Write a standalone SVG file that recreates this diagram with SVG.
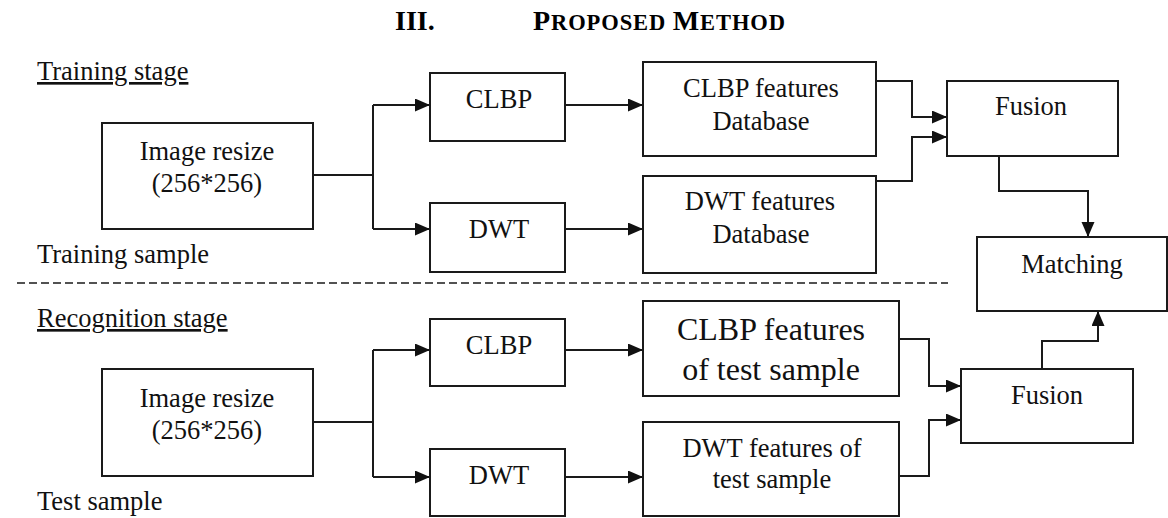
<svg xmlns="http://www.w3.org/2000/svg" width="1168" height="518" viewBox="0 0 1168 518">
  <style>
    .box { fill: #fff; stroke: #1a1a1a; stroke-width: 2; }
    .t { font-family: "Liberation Serif", "Times New Roman", serif; font-size: 26.5px; fill: #111; text-anchor: middle; }
    .big { font-size: 32px; }
    .lbl { font-family: "Liberation Serif", "Times New Roman", serif; font-size: 26.5px; fill: #111; }
    .u { text-decoration: underline; }
    .title { font-family: "Liberation Serif", "Times New Roman", serif; font-weight: bold; fill: #000; }
    .wire { fill: none; stroke: #1a1a1a; stroke-width: 2; }
    .dash { fill: none; stroke: #1a1a1a; stroke-width: 1.6; stroke-dasharray: 8 4; }
  </style>
  <defs>
    <marker id="arrow" markerUnits="userSpaceOnUse" markerWidth="16" markerHeight="14" refX="15" refY="6.5" orient="auto">
      <path d="M0,0 L15,6.5 L0,13 z" fill="#111"/>
    </marker>
  </defs>

  <rect width="1168" height="518" fill="#fff"/>

  <!-- heading -->
  <g id="heading">
    <text class="title" x="395" y="30" font-size="28">III.</text>
    <text class="title" x="533" y="30" textLength="252" lengthAdjust="spacing"><tspan font-size="28">P</tspan><tspan font-size="22.5">ROPOSED </tspan><tspan font-size="28">M</tspan><tspan font-size="22.5">ETHOD</tspan></text>
  </g>

  <!-- stage labels -->
  <g id="labels">
    <text class="lbl u" x="37" y="80">Training stage</text>
    <text class="lbl" x="37" y="263">Training sample</text>
    <text class="lbl u" x="37" y="327">Recognition stage</text>
    <text class="lbl" x="37" y="510">Test sample</text>
  </g>

  <!-- stage separator -->
  <line class="dash" x1="17" y1="283" x2="948" y2="283"/>

  <!-- connectors -->
  <g id="connectors">
    <!-- training -->
    <polyline class="wire" points="313,175 373,175"/>
    <polyline class="wire" points="373,105 373,229"/>
    <polyline class="wire" points="373,105 430,105" marker-end="url(#arrow)"/>
    <polyline class="wire" points="373,229 430,229" marker-end="url(#arrow)"/>
    <polyline class="wire" points="565,105 643,105" marker-end="url(#arrow)"/>
    <polyline class="wire" points="565,229 643,229" marker-end="url(#arrow)"/>
    <polyline class="wire" points="876,81 912,81 912,117 947,117" marker-end="url(#arrow)"/>
    <polyline class="wire" points="876,181 912,181 912,137 947,137" marker-end="url(#arrow)"/>
    <polyline class="wire" points="999,156 999,191 1088,191 1088,237" marker-end="url(#arrow)"/>
    <!-- recognition -->
    <polyline class="wire" points="313,422 373,422"/>
    <polyline class="wire" points="373,350 373,477"/>
    <polyline class="wire" points="373,350 430,350" marker-end="url(#arrow)"/>
    <polyline class="wire" points="373,477 430,477" marker-end="url(#arrow)"/>
    <polyline class="wire" points="565,350 643,350" marker-end="url(#arrow)"/>
    <polyline class="wire" points="565,477 643,477" marker-end="url(#arrow)"/>
    <polyline class="wire" points="899,339 929,339 929,386 961,386" marker-end="url(#arrow)"/>
    <polyline class="wire" points="899,476 929,476 929,420 961,420" marker-end="url(#arrow)"/>
    <polyline class="wire" points="1042,369 1042,341 1098,341 1098,311" marker-end="url(#arrow)"/>
  </g>

  <!-- training nodes -->
  <g id="train-resize">
    <rect class="box" x="102" y="123" width="211" height="106"/>
    <text class="t" x="207" y="160">Image resize</text>
    <text class="t" x="207" y="192">(256*256)</text>
  </g>
  <g id="train-clbp">
    <rect class="box" x="430" y="73" width="135" height="68"/>
    <text class="t" x="499" y="108">CLBP</text>
  </g>
  <g id="train-dwt">
    <rect class="box" x="430" y="203" width="135" height="69"/>
    <text class="t" x="499" y="238">DWT</text>
  </g>
  <g id="train-clbp-db">
    <rect class="box" x="643" y="62" width="233" height="94"/>
    <text class="t" x="761" y="97">CLBP features</text>
    <text class="t" x="761" y="130">Database</text>
  </g>
  <g id="train-dwt-db">
    <rect class="box" x="643" y="176" width="233" height="97"/>
    <text class="t" x="760" y="210">DWT features</text>
    <text class="t" x="761" y="243">Database</text>
  </g>
  <g id="train-fusion">
    <rect class="box" x="947" y="81" width="171" height="75"/>
    <text class="t" x="1031" y="115">Fusion</text>
  </g>
  <g id="matching">
    <rect class="box" x="977" y="237" width="190" height="74"/>
    <text class="t" x="1072" y="273">Matching</text>
  </g>

  <!-- recognition nodes -->
  <g id="test-resize">
    <rect class="box" x="102" y="369" width="211" height="107"/>
    <text class="t" x="207" y="407">Image resize</text>
    <text class="t" x="207" y="439">(256*256)</text>
  </g>
  <g id="test-clbp">
    <rect class="box" x="430" y="319" width="135" height="67"/>
    <text class="t" x="499" y="354">CLBP</text>
  </g>
  <g id="test-dwt">
    <rect class="box" x="430" y="449" width="135" height="67"/>
    <text class="t" x="499" y="484">DWT</text>
  </g>
  <g id="test-clbp-feat">
    <rect class="box" x="643" y="301" width="256" height="95"/>
    <text class="t big" x="771" y="340">CLBP features</text>
    <text class="t big" x="771" y="380">of test sample</text>
  </g>
  <g id="test-dwt-feat">
    <rect class="box" x="643" y="422" width="256" height="94"/>
    <text class="t" x="772" y="457">DWT features of</text>
    <text class="t" x="772" y="488">test sample</text>
  </g>
  <g id="test-fusion">
    <rect class="box" x="961" y="369" width="172" height="74"/>
    <text class="t" x="1047" y="404">Fusion</text>
  </g>
</svg>
